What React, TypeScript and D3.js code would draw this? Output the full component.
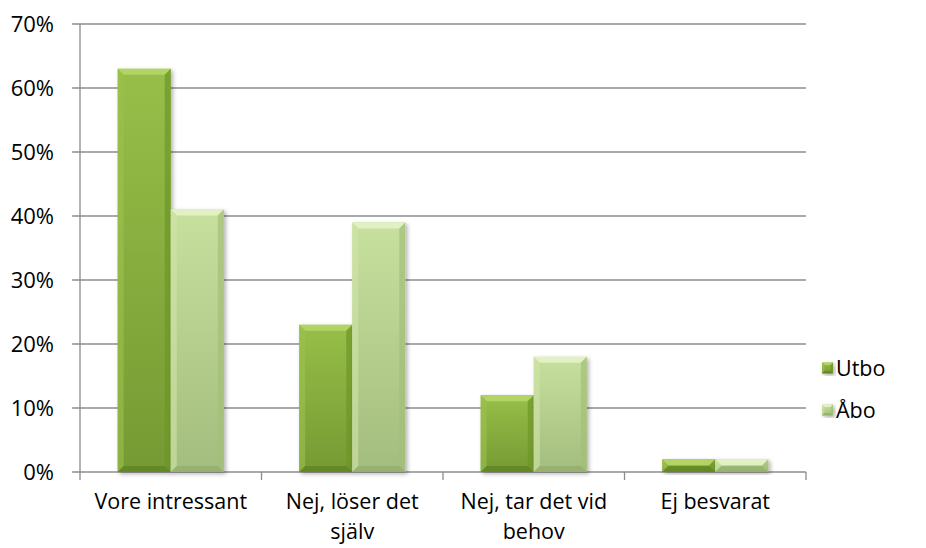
import * as d3 from 'd3';

const categories = [['Vore intressant'], ['Nej, löser det', 'själv'], ['Nej, tar det vid', 'behov'], ['Ej besvarat']];
const seriesNames = ['Utbo', 'Åbo'];
const utbo = [63, 23, 12, 2];
const abo = [41, 39, 18, 2];
const yTicks = [0, 10, 20, 30, 40, 50, 60, 70];

const W = 926;
const H = 548;
const margin = { top: 24, right: 120, bottom: 76, left: 80 };

const palettes = [
  { top: '#b2d366', left: '#9cc24e', right: '#6e9628', bottom: '#5d8020', g0: '#97bf48', g1: '#759a33' },
  { top: '#e2f1c4', left: '#cfe4a8', right: '#a3bf78', bottom: '#91ad69', g0: '#c8e09e', g1: '#a3bd7e' },
];

function Bevel({ x0, x1, y0, y1, p, id, b = 6 }: any) {
  const h = y1 - y0;
  const bb = Math.min(b, h / 2, (x1 - x0) / 2);
  const pts = (a: number[][]) => a.map((d) => d.join(',')).join(' ');
  return (
    <g filter="url(#shadow)">
      <rect x={x0} y={y0} width={x1 - x0} height={h} fill={`url(#${id})`} />
      <polygon points={pts([[x0, y0], [x1, y0], [x1 - bb, y0 + bb], [x0 + bb, y0 + bb]])} fill={p.top} />
      <polygon points={pts([[x0, y0], [x0 + bb, y0 + bb], [x0 + bb, y1 - bb], [x0, y1]])} fill={p.left} opacity={0.6} />
      <polygon points={pts([[x1, y0], [x1, y1], [x1 - bb, y1 - bb], [x1 - bb, y0 + bb]])} fill={p.right} opacity={0.7} />
      <polygon points={pts([[x0, y1], [x0 + bb, y1 - bb], [x1 - bb, y1 - bb], [x1, y1]])} fill={p.bottom} opacity={0.7} />
    </g>
  );
}

export default function App() {
  const x0 = margin.left;
  const x1 = 806;
  const yBase = H - margin.bottom;
  const y = d3.scaleLinear().domain([0, 70]).range([yBase, margin.top]);
  const x = d3.scaleBand<number>().domain(d3.range(categories.length)).range([x0, x1]);
  const inner = d3.scaleBand<number>().domain([0, 1]).range([0, x.bandwidth()]).paddingOuter(0.71);
  const series = [utbo, abo];
  const font = '"Open Sans", Lato, sans-serif';

  return (
    <svg width={W} height={H} style={{ position: 'absolute', left: 0, top: 0 }} fontFamily={font}>
      <defs>
        <filter id="shadow" x="-20%" y="-20%" width="140%" height="140%">
          <feDropShadow dx="2" dy="2" stdDeviation="2" floodColor="#000" floodOpacity="0.3" />
        </filter>
        {palettes.map((p, i) => (
          <linearGradient key={i} id={`g${i}`} x1="0" y1="0" x2="0" y2="1">
            <stop offset="0" stopColor={p.g0} />
            <stop offset="1" stopColor={p.g1} />
          </linearGradient>
        ))}
      </defs>
      {yTicks.map((t) => (
        <g key={t}>
          <line x1={x0 - 8} x2={x1} y1={y(t)} y2={y(t)} stroke="#8c8c8c" strokeWidth={1.3} />
          <text x={54} y={y(t)} dy="0.36em" textAnchor="end" fontSize={22} fill="#000">
            {t}%
          </text>
        </g>
      ))}
      <line x1={x0} x2={x0} y1={margin.top} y2={yBase} stroke="#8c8c8c" strokeWidth={1.3} />
      {d3.range(categories.length + 1).map((i) => {
        const xx = i < categories.length ? x(i)! : x1;
        return <line key={i} x1={xx} x2={xx} y1={yBase} y2={yBase + 8} stroke="#8c8c8c" strokeWidth={1.3} />;
      })}
      {categories.map((c, i) =>
        series.map((s, j) => {
          const bx = x(i)! + inner(j)!;
          return (
            <Bevel key={`${i}-${j}`} x0={bx} x1={bx + inner.bandwidth()} y0={y(s[i])} y1={yBase} p={palettes[j]} id={`g${j}`} />
          );
        })
      )}
      {categories.map((c, i) => (
        <text key={i} x={x(i)! + x.bandwidth() / 2} y={509} textAnchor="middle" fontSize={21.5} fill="#000">
          {c.map((line, k) => (
            <tspan key={k} x={x(i)! + x.bandwidth() / 2} dy={k === 0 ? 0 : 29.5}>
              {line}
            </tspan>
          ))}
        </text>
      ))}
      {seriesNames.map((n, j) => (
        <g key={n} transform={`translate(822,${368 + j * 42})`}>
          <Bevel x0={0} x1={11} y0={-5.5} y1={5.5} p={palettes[j]} id={`g${j}`} b={2.5} />
          <text x={14} y={0} dy="0.36em" fontSize={21.5} fill="#000">
            {n}
          </text>
        </g>
      ))}
    </svg>
  );
}
